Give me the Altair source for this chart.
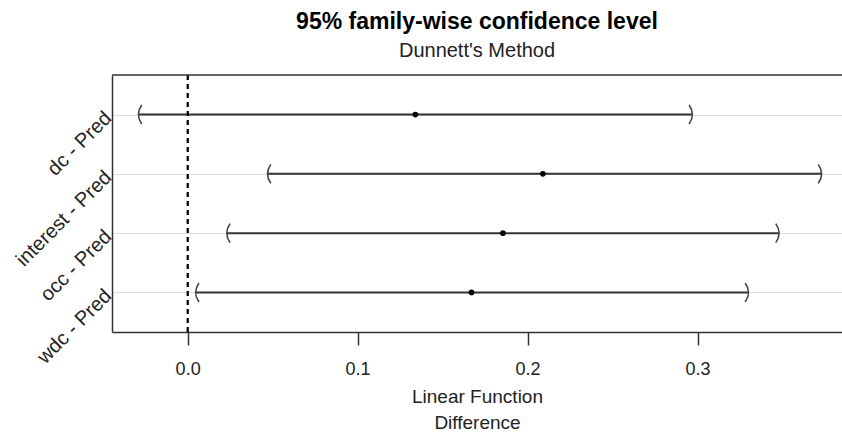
import altair as alt
import pandas as pd

comparisons = ["dc - Pred", "interest - Pred", "occ - Pred", "wdc - Pred"]
estimates = [0.134, 0.209, 0.1855, 0.167]
lower = [-0.029, 0.047, 0.023, 0.0047]
upper = [0.297, 0.373, 0.348, 0.330]
x_ticks = [0.0, 0.1, 0.2, 0.3]

df = pd.DataFrame({"comparison": comparisons, "estimate": estimates,
                   "lower": lower, "upper": upper})

FONT = "Liberation Sans"
W, H = 730, 257

x_scale = alt.Scale(domain=[-0.0445, 0.385], nice=False, zero=False)
y_scale = alt.Scale(type="point", domain=comparisons, padding=0.667)

x_axis = alt.Axis(values=x_ticks, format=".1f", tickSize=13, tickColor="#333",
                  tickWidth=1.5, domainColor="#333", domainWidth=1.5,
                  labelFontSize=18, labelFont=FONT, labelColor="#222",
                  labelPadding=15, grid=False,
                  title=["Linear Function", "Difference"], titleFont=FONT,
                  titleFontSize=19, titleFontWeight="normal", titleColor="#222",
                  titleLineHeight=26, titlePadding=9)
y_axis = alt.Axis(title=None, ticks=False, domainColor="#333", domainWidth=1.5,
                  labelFontSize=20, labelFont=FONT, labelColor="#222",
                  labelAngle=-45, labelAlign="right", labelBaseline="middle",
                  labelPadding=4, grid=True, gridColor="#dddddd", gridWidth=1)

base = alt.Chart(df)

intervals = base.mark_rule(color="#333", strokeWidth=2).encode(
    x=alt.X("lower:Q", scale=x_scale, axis=x_axis),
    x2="upper:Q",
    y=alt.Y("comparison:N", scale=y_scale, axis=y_axis, sort=comparisons),
)

zero_line = base.mark_rule(color="black", strokeWidth=1.5, strokeDash=[5, 4]).encode(
    x=alt.datum(0.0),
    y=alt.value(0),
    y2=alt.value(H),
)

top_border = alt.Chart(pd.DataFrame({"a": [0]})).mark_rule(color="#333", strokeWidth=1.5).encode(
    x=alt.value(0), x2=alt.value(W), y=alt.value(0)
)

left_br = base.mark_point(shape="M 0.35 -1 Q -0.35 0 0.35 1", size=361,
                          filled=False, color="#444", strokeWidth=1.6, opacity=1).encode(
    x=alt.X("lower:Q"),
    y=alt.Y("comparison:N", sort=comparisons),
)
right_br = base.mark_point(shape="M -0.35 -1 Q 0.35 0 -0.35 1", size=361,
                           filled=False, color="#444", strokeWidth=1.6, opacity=1).encode(
    x=alt.X("upper:Q"),
    y=alt.Y("comparison:N", sort=comparisons),
)

points = base.mark_circle(color="black", size=32, opacity=1).encode(
    x=alt.X("estimate:Q"),
    y=alt.Y("comparison:N", sort=comparisons),
)

chart = alt.layer(intervals, zero_line, top_border, left_br, right_br, points).properties(
    width=W, height=H,
    title=alt.TitleParams(text="95% family-wise confidence level",
                          subtitle="Dunnett's Method", anchor="middle",
                          font=FONT, fontSize=23, fontWeight="bold", color="black",
                          subtitleFont=FONT, subtitleFontSize=20, subtitleColor="#222",
                          subtitlePadding=7, offset=13),
    padding={"left": 112, "top": 75, "right": 0, "bottom": 109},
    autosize="none",
).configure_view(stroke=None)

chart.save("out.html", embed_options={"renderer": "svg", "actions": False})
